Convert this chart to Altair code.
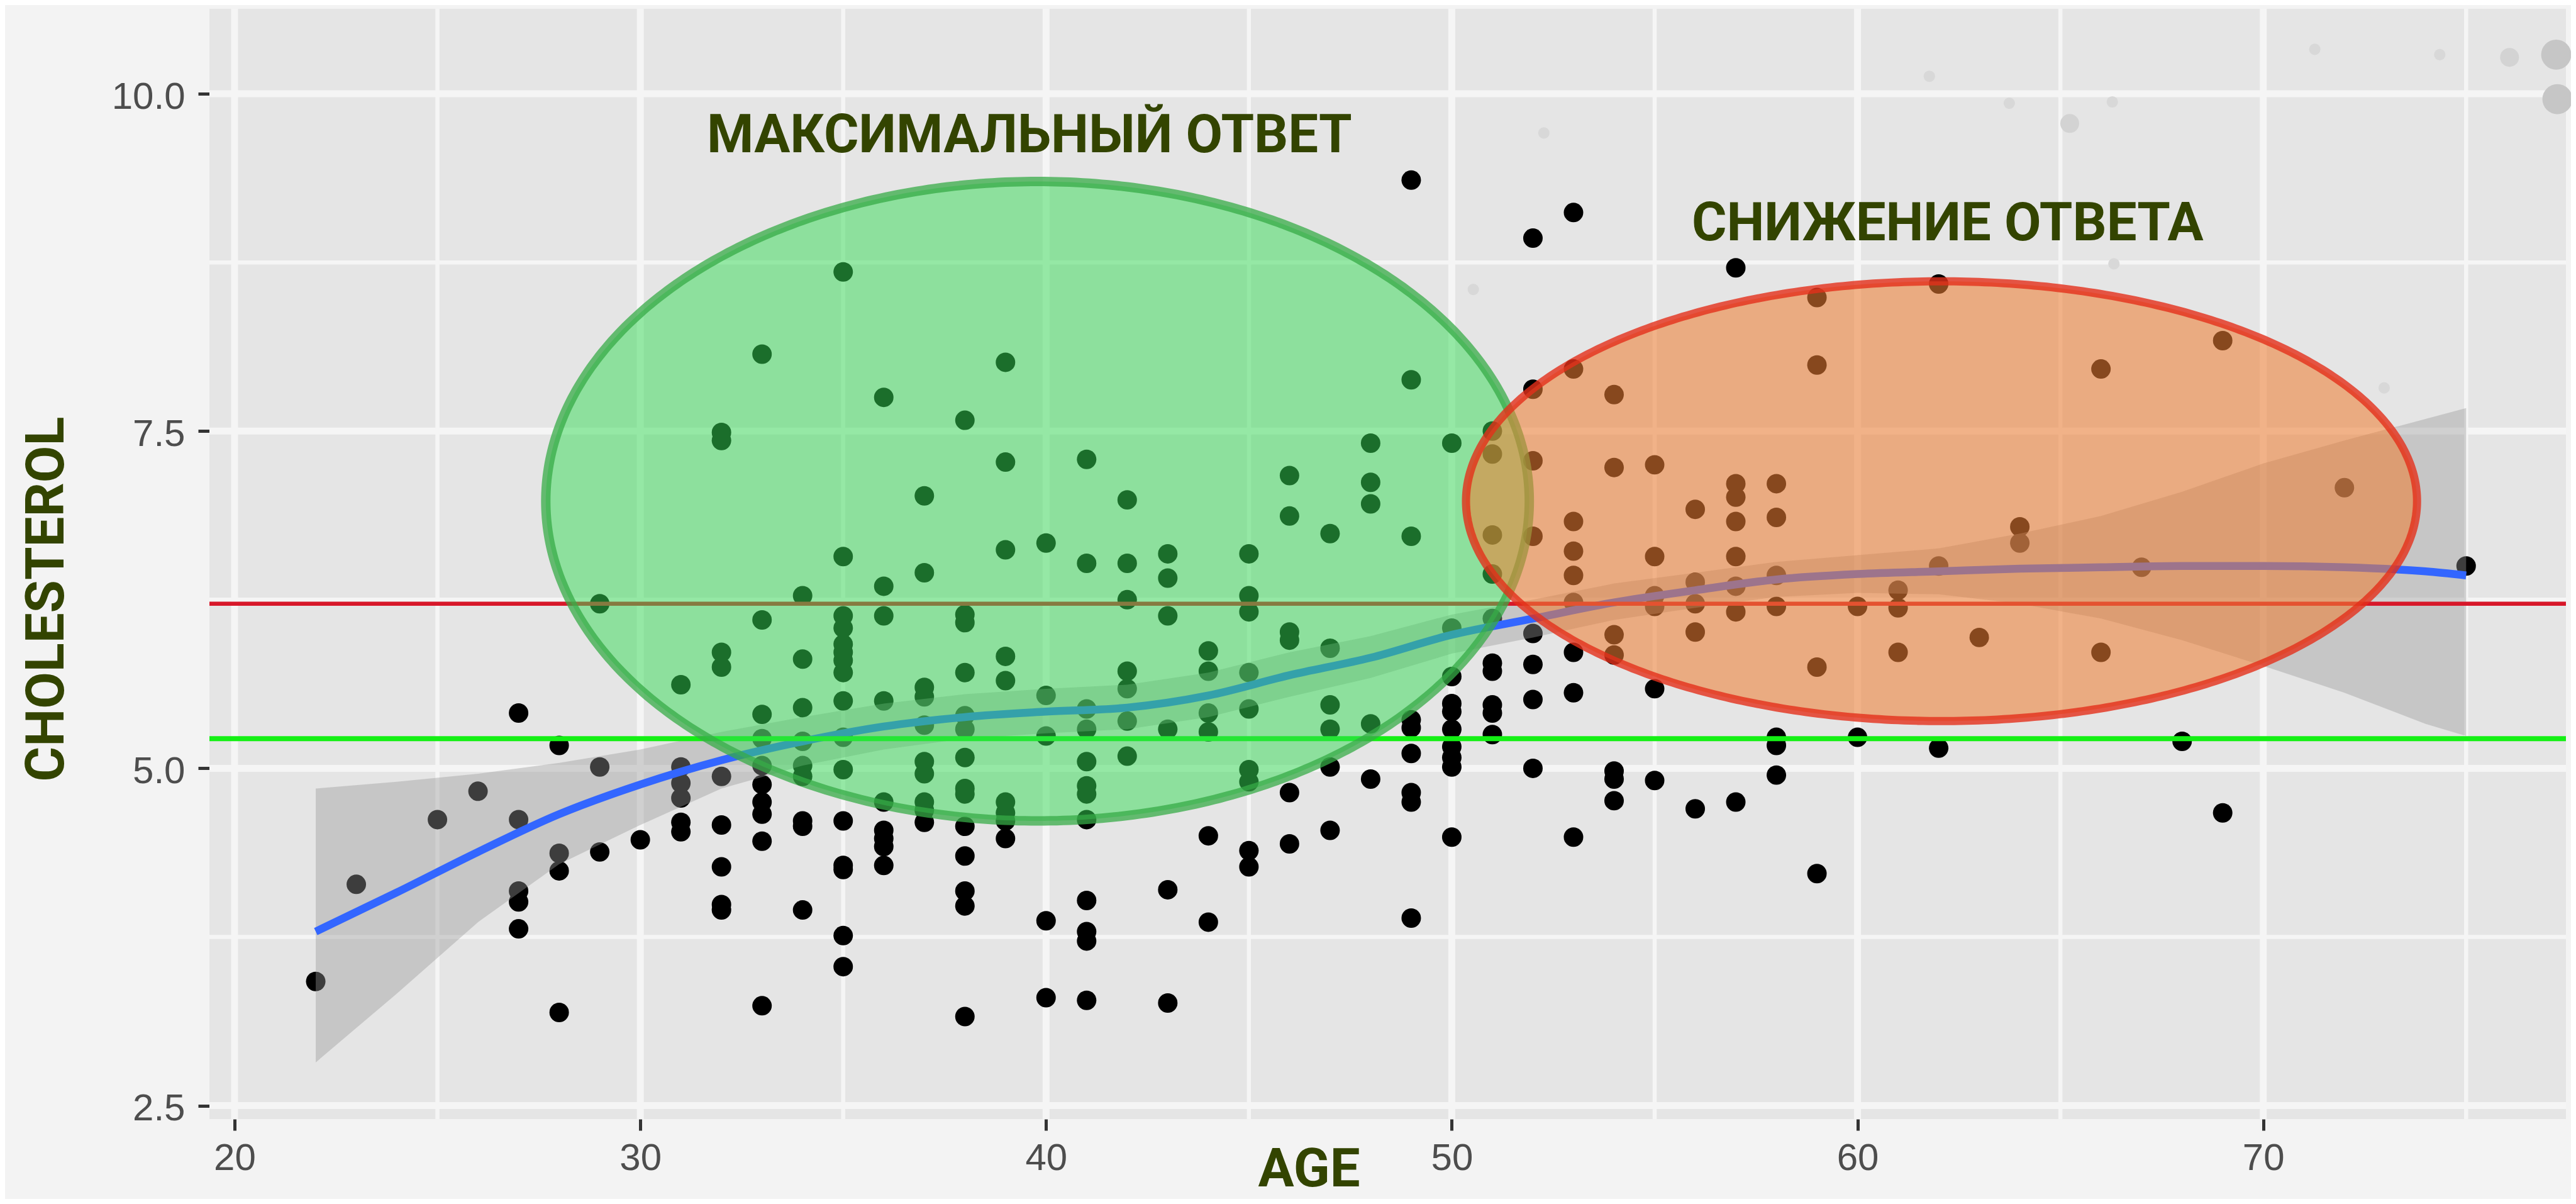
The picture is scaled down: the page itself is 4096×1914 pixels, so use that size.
import altair as alt
import pandas as pd
import numpy as np

# ---------------- data ----------------
point_age = [
    22, 23, 25, 26,
    27, 27, 27, 27, 27,
    28, 28, 28, 28,
    29, 29, 29,
    30,
    31, 31, 31, 31, 31, 31,
    32, 32, 32, 32, 32, 32, 32, 32, 32,
    33, 33, 33, 33, 33, 33, 33, 33, 33, 33,
    34, 34, 34, 34, 34, 34, 34, 34, 34,
    35, 35, 35, 35, 35, 35, 35, 35, 35, 35, 35, 35, 35, 35, 35, 35,
    36, 36, 36, 36, 36, 36, 36, 36, 36,
    37, 37, 37, 37, 37, 37, 37, 37, 37, 37,
    38, 38, 38, 38, 38, 38, 38, 38, 38, 38, 38, 38, 38, 38,
    39, 39, 39, 39, 39, 39, 39, 39, 39,
    40, 40, 40, 40, 40,
    41, 41, 41, 41, 41, 41, 41, 41, 41, 41, 41, 41,
    42, 42, 42, 42, 42, 42, 42,
    43, 43, 43, 43, 43, 43,
    44, 44, 44, 44, 44, 44,
    45, 45, 45, 45, 45, 45, 45, 45, 45,
    46, 46, 46, 46, 46, 46,
    47, 47, 47, 47, 47, 47,
    48, 48, 48, 48, 48,
    49, 49, 49, 49, 49, 49, 49, 49, 49,
    50, 50, 50, 50, 50, 50, 50, 50, 50, 50,
    51, 51, 51, 51, 51, 51, 51, 51, 51, 51,
    52, 52, 52, 52, 52, 52, 52, 52,
    53, 53, 53, 53, 53, 53, 53, 53, 53,
    54, 54, 54, 54, 54, 54, 54,
    55, 55, 55, 55, 55, 55,
    56, 56, 56, 56, 56,
    57, 57, 57, 57, 57, 57, 57, 57,
    58, 58, 58, 58, 58, 58, 58,
    59, 59, 59, 59,
    60, 60,
    61, 61, 61,
    62, 62, 62,
    63, 64, 64, 66, 66, 67, 68, 69, 69, 72, 75,
]
point_chol = [
    3.42, 4.14, 4.62, 4.83,
    5.41, 4.62, 4.09, 4.01, 3.81,
    5.17, 4.37, 4.24, 3.19,
    6.22, 5.01, 4.38,
    4.47,
    5.62, 5.01, 4.89, 4.78, 4.60, 4.53,
    7.49, 7.43, 5.86, 5.75, 4.94, 4.58, 4.27, 3.99, 3.95,
    8.07, 6.10, 5.40, 5.22, 5.02, 4.88, 4.75, 4.66, 4.46, 3.24,
    6.28, 5.81, 5.45, 5.20, 5.02, 4.94, 4.61, 4.57, 3.95,
    8.68, 6.57, 6.13, 6.04, 5.92, 5.86, 5.80, 5.71, 5.50, 5.23, 4.99, 4.61, 4.28, 4.25, 3.76, 3.53,
    7.75, 6.35, 6.13, 5.50, 4.75, 4.54, 4.48, 4.42, 4.28,
    7.02, 6.45, 5.60, 5.53, 5.32, 5.05, 4.96, 4.75, 4.69, 4.60,
    7.58, 6.14, 6.08, 5.71, 5.39, 5.29, 5.08, 4.85, 4.81, 4.57, 4.35, 4.09, 3.98, 3.16,
    8.01, 7.27, 6.62, 5.83, 5.65, 4.75, 4.67, 4.61, 4.48,
    6.67, 5.54, 5.24, 3.87, 3.30,
    7.29, 6.52, 5.44, 5.29, 5.05, 4.87, 4.81, 4.62, 4.02, 3.79, 3.72, 3.28,
    6.99, 6.52, 6.25, 5.72, 5.59, 5.35, 5.09,
    6.59, 6.41, 6.13, 5.29, 4.10, 3.26,
    5.87, 5.72, 5.41, 5.27, 4.50, 3.86,
    6.59, 6.28, 6.16, 5.71, 5.44, 4.99, 4.90, 4.39, 4.27,
    7.17, 6.87, 6.01, 5.95, 4.82, 4.44,
    6.74, 5.89, 5.47, 5.29, 5.01, 4.54,
    7.41, 7.12, 6.96, 5.33, 4.92,
    9.36, 7.88, 6.72, 5.36, 5.30, 5.11, 4.82, 4.75, 3.89,
    7.41, 6.04, 5.68, 5.48, 5.42, 5.29, 5.16, 5.08, 5.01, 4.49,
    7.50, 7.33, 6.73, 6.44, 6.11, 5.78, 5.72, 5.47, 5.41, 5.25,
    8.93, 7.81, 7.28, 6.72, 6.00, 5.77, 5.51, 5.00,
    9.12, 7.96, 6.83, 6.61, 6.43, 6.23, 5.86, 5.56, 4.49,
    7.77, 7.23, 5.99, 5.84, 4.98, 4.92, 4.76,
    7.25, 6.57, 6.28, 6.20, 5.59, 4.91,
    6.92, 6.38, 6.22, 6.01, 4.70,
    8.71, 7.11, 7.01, 6.83, 6.57, 6.35, 6.16, 4.75,
    7.11, 6.86, 6.43, 6.20, 5.23, 5.17, 4.95,
    8.49, 7.99, 5.75, 4.22,
    6.20, 5.23,
    6.32, 6.19, 5.86,
    8.59, 6.50, 5.15,
    5.97, 6.79, 6.67, 7.96, 5.86, 6.49, 5.20, 8.17, 4.67, 7.08, 6.50,
]

# loess fit and its confidence band
smooth_age = [22, 24, 26, 28, 30, 32, 34, 36, 38, 40, 42, 44, 46, 48, 50, 52, 54, 56, 58, 60, 62, 64, 66, 68, 70, 72, 74, 75]
smooth_fit = [3.79, 4.08, 4.38, 4.66, 4.88, 5.06, 5.20, 5.31, 5.38, 5.42, 5.45, 5.54, 5.69, 5.82, 5.99, 6.11, 6.23, 6.32, 6.40, 6.44, 6.46, 6.48, 6.49, 6.50, 6.50, 6.49, 6.46, 6.43]
smooth_hi = [4.85, 4.90, 4.96, 5.04, 5.14, 5.27, 5.38, 5.48, 5.55, 5.59, 5.62, 5.71, 5.86, 5.98, 6.14, 6.25, 6.37, 6.45, 6.53, 6.58, 6.63, 6.74, 6.87, 7.05, 7.26, 7.43, 7.59, 7.67]
smooth_lo = [2.82, 3.33, 3.86, 4.29, 4.58, 4.85, 5.02, 5.14, 5.22, 5.26, 5.29, 5.38, 5.53, 5.67, 5.85, 5.97, 6.10, 6.19, 6.27, 6.30, 6.29, 6.22, 6.11, 5.95, 5.76, 5.56, 5.33, 5.24]

# reference lines
red_level = [6.22]
green_level = [5.22]

# ellipses (centre age, centre cholesterol, half-width in years, half-height)
green_ellipse = [39.79, 6.98, 12.12, 2.37]
orange_ellipse = [62.07, 6.98, 11.72, 1.63]

# annotation texts
label_text = ["МАКСИМАЛЬНЫЙ ОТВЕТ", "СНИЖЕНИЕ ОТВЕТА"]
label_age = [39.59, 62.22]
label_chol = [9.71, 9.06]

# axis ticks and grid
x_ticks = [20, 30, 40, 50, 60, 70]
x_minor = [25, 35, 45, 55, 65, 75]
y_ticks = [2.5, 5.0, 7.5, 10.0]
y_minor = [3.75, 6.25, 8.75]

# faint decorative dots of the slide background
deco_big_age = [77.22, 77.25]
deco_big_chol = [10.29, 9.96]
deco_mid_age = [76.07, 65.23]
deco_mid_chol = [10.27, 9.78]
deco_small_age = [71.27, 74.35, 61.77, 63.74, 66.28, 66.32, 72.98, 52.27, 50.53]
deco_small_chol = [10.33, 10.29, 10.13, 9.93, 9.94, 8.74, 7.82, 9.71, 8.55]

# ---------------- layout ----------------
W, H = 3747, 1765
PAD = {"left": 325, "top": 6, "right": 8, "bottom": 127}
TITLE_COLOR = "#334400"

xscale = alt.Scale(domain=[19.38, 77.46], nice=False, zero=False)
yscale = alt.Scale(domain=[2.40, 10.63], nice=False, zero=False)

xaxis = alt.Axis(
    values=x_ticks, format="d", grid=False, domain=False,
    tickSize=18, tickWidth=5, tickColor="#333333",
    labelFont="Liberation Sans", labelFontSize=60, labelColor="#4D4D4D", labelPadding=15,
    title="AGE", titleFont="Roboto", titleFontSize=85, titleFontWeight="bold",
    titleColor=TITLE_COLOR, titleX=1748, titleY=80, titleAlign="center",
    titleBaseline="middle", titleAngle=0,
)
yaxis = alt.Axis(
    values=y_ticks, format=".1f", grid=False, domain=False,
    tickSize=18, tickWidth=5, tickColor="#333333",
    labelFont="Liberation Sans", labelFontSize=60, labelColor="#4D4D4D", labelPadding=21,
    labelOffset=5,
    title="CHOLESTEROL", titleFont="Roboto", titleFontSize=85, titleFontWeight="bold",
    titleColor=TITLE_COLOR, titleX=-259, titleY=938, titleAlign="center",
    titleBaseline="middle", titleAngle=270,
)


def X(field="x"):
    return alt.X(f"{field}:Q", scale=xscale, axis=xaxis)


def Y(field="y"):
    return alt.Y(f"{field}:Q", scale=yscale, axis=yaxis)


# ---------------- layers ----------------
grid_color = "#F5F5F5"
gx_major = alt.Chart(pd.DataFrame({"x": x_ticks})).mark_rule(color=grid_color, strokeWidth=11).encode(x=X())
gx_minor = alt.Chart(pd.DataFrame({"x": x_minor})).mark_rule(color=grid_color, strokeWidth=6.5).encode(x=X())
gy_major = alt.Chart(pd.DataFrame({"y": y_ticks})).mark_rule(color=grid_color, strokeWidth=11).encode(y=Y())
gy_minor = alt.Chart(pd.DataFrame({"y": y_minor})).mark_rule(color=grid_color, strokeWidth=6.5).encode(y=Y())

deco_big = alt.Chart(pd.DataFrame({"x": deco_big_age, "y": deco_big_chol})).mark_circle(
    size=2290, color="#C6C6C6", opacity=1).encode(x=X(), y=Y())
deco_mid = alt.Chart(pd.DataFrame({"x": deco_mid_age, "y": deco_mid_chol})).mark_circle(
    size=900, color="#D3D3D3", opacity=1).encode(x=X(), y=Y())
deco_small = alt.Chart(pd.DataFrame({"x": deco_small_age, "y": deco_small_chol})).mark_circle(
    size=330, color="#D8D8D8", opacity=1).encode(x=X(), y=Y())

points = alt.Chart(pd.DataFrame({"x": point_age, "y": point_chol})).mark_circle(
    size=960, color="black", opacity=1).encode(x=X(), y=Y())

smooth_df = pd.DataFrame({"x": smooth_age, "y": smooth_lo, "y2": smooth_hi, "fit": smooth_fit})
ribbon = alt.Chart(smooth_df).mark_area(color="#999999", opacity=0.4).encode(
    x=X(), y=Y(), y2=alt.Y2("y2:Q"))
fit_line = alt.Chart(smooth_df).mark_line(color="#3366FF", strokeWidth=12.5, interpolate="monotone").encode(
    x=X(), y=Y("fit"))

h_red = alt.Chart(pd.DataFrame({"y": red_level})).mark_rule(color="#D7182A", strokeWidth=6.5).encode(y=Y())
h_green = alt.Chart(pd.DataFrame({"y": green_level})).mark_rule(color="#14F014", strokeWidth=8).encode(y=Y())


def ellipse_layers(params, fill, fill_opacity, stroke, stroke_width, stroke_opacity):
    cx, cy, rx, ry = params
    t = np.linspace(0, np.pi, 241)
    area_df = pd.DataFrame({
        "x": cx + rx * np.cos(t),
        "y": cy - ry * np.sin(t),
        "y2": cy + ry * np.sin(t),
    })
    s = np.linspace(0, 2 * np.pi, 481)
    line_df = pd.DataFrame({
        "x": cx + rx * np.cos(s),
        "y": cy + ry * np.sin(s),
        "i": np.arange(len(s)),
    })
    area = alt.Chart(area_df).mark_area(color=fill, opacity=fill_opacity).encode(
        x=X(), y=Y(), y2=alt.Y2("y2:Q"))
    line = alt.Chart(line_df).mark_line(
        color=stroke, strokeWidth=stroke_width, opacity=stroke_opacity).encode(
        x=X(), y=Y(), order=alt.Order("i:Q"))
    return [area, line]


green_layers = ellipse_layers(green_ellipse, "#36DC56", 0.5, "#37AB47", 15, 0.75)
orange_layers = ellipse_layers(orange_ellipse, "#ED7E35", 0.57, "#E3301A", 13, 0.8)

labels = alt.Chart(pd.DataFrame({"x": label_age, "y": label_chol, "t": label_text})).mark_text(
    font="Roboto", fontSize=85, fontWeight="bold", color=TITLE_COLOR,
    align="center", baseline="middle", dy=5).encode(x=X(), y=Y(), text="t:N")

chart = alt.layer(
    gx_major, gx_minor, gy_major, gy_minor,
    deco_small, deco_mid, deco_big,
    points, ribbon, fit_line, h_red, h_green,
    *green_layers, *orange_layers, labels,
).properties(
    width=W, height=H, padding=PAD,
    autosize=alt.AutoSizeParams(type="none"),
    background="#F3F3F3",
).configure_view(fill="#E5E5E5", stroke=None)

chart.save("out.html", embed_options={"renderer": "svg", "actions": False})
